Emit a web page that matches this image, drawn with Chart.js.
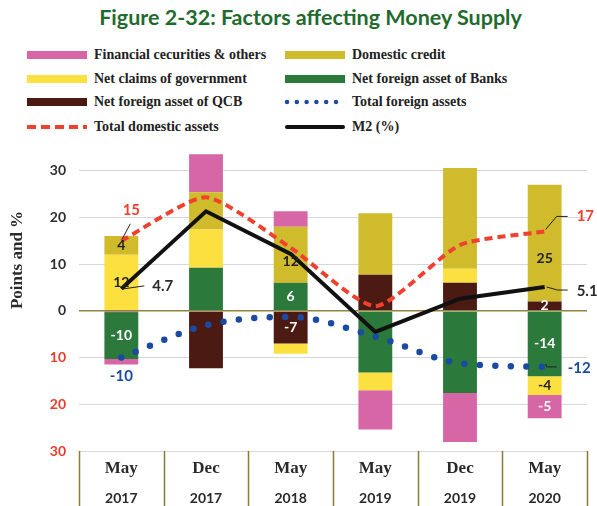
<!DOCTYPE html>
<html lang="en">
<head>
<meta charset="UTF-8">
<title>Factors affecting Money Supply</title>
<script src="https://cdn.jsdelivr.net/npm/chart.js"></script>
<style>
    * { margin: 0; padding: 0; box-sizing: border-box; }
    body { width: 597px; height: 506px; background: #fff; position: relative; overflow: hidden; }
    .title {
        position: absolute; top: 4px; left: 12px; width: 597px;
        text-align: center; font: bold 21.5px Lato, sans-serif; color: #1f6b2e;
    }
    .legend-item {
        position: absolute; height: 22px; display: flex; align-items: center;
        font: bold 14px 'Liberation Serif', serif; color: #222; white-space: nowrap;
    }
    .legend-item svg { margin-right: 6px; }
    .chart-box { position: absolute; left: 0; top: 140px; width: 597px; height: 366px; }
</style>
</head>
<body>
<div class="title">Figure 2-32: Factors affecting Money Supply</div>
<div id="legend"></div>
<div class="chart-box"><canvas id="moneyChart"></canvas></div>

<script>
// categories
const months = ['May', 'Dec', 'May', 'May', 'Dec', 'May'];
const years = ['2017', '2017', '2018', '2019', '2019', '2020'];

// contributions (points)
const netForeignQCB   = [-0.3, -12.3, -7, 7.7, 6, 2];
const netForeignBanks = [-10, 9.2, 6, -13.2, -17.6, -14];
const netClaimsGov    = [12, 8.2, -2.2, -3.8, 3, -4];
const domesticCredit  = [4, 8, 12, 13.2, 21.6, 25];
const finSecurities   = [-1.2, 8.1, 3.3, -8.4, -10.5, -5];

// totals and M2 growth (%)
const totalDomestic = [15, 24.3, 13.5, 1.0, 14.1, 17];
const totalForeign  = [-10, -3.1, -1.3, -5.5, -11.2, -12];
const m2Growth      = [4.7, 21.3, 12.2, -4.5, 2.6, 5.1];

const yTicks = [-30, -20, -10, 0, 10, 20, 30];

const labelFont = 'bold 14px Lato, sans-serif';

// writes values inside selected bar segments
const barLabels = {
    id: 'barLabels',
    afterDatasetsDraw(chart) {
        const ctx = chart.ctx;
        ctx.save();
        ctx.font = labelFont;
        ctx.textAlign = 'center';
        ctx.textBaseline = 'middle';
        chart.data.datasets.forEach((ds, di) => {
            if (!ds.labelAt) return;
            const meta = chart.getDatasetMeta(di);
            ds.labelAt.forEach(i => {
                const bar = meta.data[i];
                const nudge = (ds.labelNudge && ds.labelNudge[i]) || 0;
                ctx.fillStyle = ds.labelColor;
                ctx.fillText(Math.round(ds.data[i]), bar.x, (bar.y + bar.base) / 2 + nudge);
            });
        });
        ctx.restore();
    }
};

// value callouts for the lines with small leader strokes
const lineCallouts = {
    id: 'lineCallouts',
    afterDatasetsDraw(chart) {
        const ctx = chart.ctx;
        ctx.save();
        chart.data.datasets.forEach((ds, di) => {
            if (!ds.callouts) return;
            const meta = chart.getDatasetMeta(di);
            ds.callouts.forEach(c => {
                const p = meta.data[c.i];
                if (c.leader) {
                    ctx.beginPath();
                    ctx.strokeStyle = '#222';
                    ctx.lineWidth = 1;
                    c.leader.forEach(([dx, dy], k) => {
                        if (k === 0) ctx.moveTo(p.x + dx, p.y + dy);
                        else ctx.lineTo(p.x + dx, p.y + dy);
                    });
                    ctx.stroke();
                }
                ctx.font = 'bold 15px Lato, sans-serif';
                ctx.fillStyle = ds.calloutColor;
                ctx.textAlign = c.align;
                ctx.textBaseline = 'middle';
                ctx.fillText(String(ds.data[c.i]), p.x + c.dx, p.y + c.dy);
            });
        });
        ctx.restore();
    }
};

// category table under the plot plus the rotated axis title
const frame = {
    id: 'frame',
    afterDraw(chart) {
        const ctx = chart.ctx;
        const area = chart.chartArea;
        const x = chart.scales.x;
        const half = (x.getPixelForValue(1) - x.getPixelForValue(0)) / 2;
        ctx.save();
        ctx.strokeStyle = '#8a7a32';
        ctx.lineWidth = 1.5;
        for (let i = 0; i <= months.length; i++) {
            const px = Math.round(x.getPixelForValue(i) - half) + 0.5;
            ctx.beginPath();
            ctx.moveTo(px, area.bottom);
            ctx.lineTo(px, chart.height);
            ctx.stroke();
        }
        ctx.fillStyle = '#2a2a2a';
        ctx.textAlign = 'center';
        ctx.textBaseline = 'middle';
        months.forEach((m, i) => {
            const px = x.getPixelForValue(i);
            ctx.font = 'bold 17px "Liberation Serif", serif';
            ctx.fillText(m, px, area.bottom + 18);
            ctx.font = 'bold 14px Lato, sans-serif';
            ctx.fillText(years[i], px, area.bottom + 47);
        });

        ctx.translate(18, 120);
        ctx.rotate(-Math.PI / 2);
        ctx.font = 'bold 17px "Liberation Serif", serif';
        ctx.fillText('Points and %', 0, 0);
        ctx.restore();
    }
};

const chart = new Chart(document.getElementById('moneyChart'), {
    data: {
        labels: months.map((m, i) => m + ' ' + years[i]),
        datasets: [
            {
                type: 'line', label: 'Total foreign assets', data: totalForeign, stack: 'tfa', order: 0,
                borderColor: '#1b4aa3', borderWidth: 6.5, borderDash: [0, 15.5], borderCapStyle: 'round',
                cubicInterpolationMode: 'monotone', pointRadius: 0, fill: false,
                legendDash: '0 9.8', legendWidth: 4.5, legendCap: 'round',
                calloutColor: '#1b4aa3',
                callouts: [
                    { i: 0, dx: 0, dy: 19, align: 'center' },
                    { i: 5, dx: 23, dy: 1, align: 'left', leader: [[1, -3], [2, 0], [12, 0]] }
                ]
            },
            {
                type: 'line', label: 'Total domestic assets', data: totalDomestic, stack: 'tda', order: 0,
                borderColor: '#f0402e', borderWidth: 4, borderDash: [8, 5],
                tension: 0.2, pointRadius: 0, fill: false,
                legendDash: '9 5', legendWidth: 4, legendCap: 'butt',
                calloutColor: '#f0402e',
                callouts: [
                    { i: 0, dx: 10, dy: -31, align: 'center', leader: [[1, -2], [9, -17]] },
                    { i: 5, dx: 32, dy: -15, align: 'left', leader: [[1, -2], [12, -15], [23, -15]] }
                ]
            },
            {
                type: 'line', label: 'M2 (%)', data: m2Growth, stack: 'm2', order: 0,
                borderColor: '#111', borderWidth: 4, tension: 0, pointRadius: 0, fill: false,
                legendWidth: 4, legendCap: 'round',
                calloutColor: '#2a2a2a',
                callouts: [
                    { i: 0, dx: 31, dy: -3, align: 'left', leader: [[2, 0], [23, -3]] },
                    { i: 5, dx: 32, dy: 4, align: 'left', leader: [[2, 0], [13, 3], [23, 3]] }
                ]
            },
            {
                type: 'bar', label: 'Net foreign asset of QCB', data: netForeignQCB, order: 1,
                backgroundColor: '#4a1a13',
                labelAt: [2, 5], labelColor: '#fff'
            },
            {
                type: 'bar', label: 'Net foreign asset of Banks', data: netForeignBanks, order: 1,
                backgroundColor: '#2b7a3b',
                labelAt: [0, 2, 5], labelColor: '#fff'
            },
            {
                type: 'bar', label: 'Net claims of government', data: netClaimsGov, order: 1,
                backgroundColor: '#fbe03f',
                labelAt: [0, 5], labelColor: '#222'
            },
            {
                type: 'bar', label: 'Domestic credit', data: domesticCredit, order: 1,
                backgroundColor: '#cfbb2b',
                labelAt: [0, 2, 5], labelColor: '#222', labelNudge: { 2: 7, 5: 15 }
            },
            {
                type: 'bar', label: 'Financial cecurities & others', data: finSecurities, order: 1,
                backgroundColor: '#d766a7',
                labelAt: [5], labelColor: '#fff'
            }
        ]
    },
    options: {
        responsive: true,
        maintainAspectRatio: false,
        animation: false,
        layout: { padding: { top: 12, right: 10, bottom: 55, left: 0 } },
        datasets: { bar: { barPercentage: 0.4, categoryPercentage: 1, borderWidth: 0 } },
        plugins: { legend: { display: false }, tooltip: { enabled: false } },
        scales: {
            x: { display: false, stacked: true },
            y: {
                stacked: true,
                min: -30,
                max: 34,
                afterBuildTicks: scale => { scale.ticks = yTicks.map(v => ({ value: v })); },
                afterFit: scale => {
                    scale.width = 79;
                    // keep the plot height set by the layout padding alone
                    scale.paddingTop = 0;
                    scale.paddingBottom = 0;
                },
                border: { display: false },
                grid: {
                    drawTicks: false,
                    color: c => c.tick.value === 0 ? '#8f8440' : '#d4d8dc',
                    lineWidth: c => c.tick.value === 0 ? 1.6 : 1
                },
                ticks: {
                    padding: 13,
                    font: { family: 'Lato', weight: 'bold', size: 14 },
                    color: c => c.tick.value < 0 ? '#ec3b2a' : '#2e2e2e',
                    callback: v => Math.abs(v)
                }
            }
        }
    },
    plugins: [barLabels, lineCallouts, frame]
});

// legend in two columns, row by row
const legendOrder = [
    'Financial cecurities & others', 'Domestic credit',
    'Net claims of government', 'Net foreign asset of Banks',
    'Net foreign asset of QCB', 'Total foreign assets',
    'Total domestic assets', 'M2 (%)'
];
const legendBox = document.getElementById('legend');
const rowTops = [44, 68, 91, 116];
legendOrder.forEach((name, k) => {
    const ds = chart.data.datasets.find(d => d.label === name);
    const item = document.createElement('div');
    item.className = 'legend-item';
    item.style.left = (k % 2 === 0 ? 26 : 284) + 'px';
    item.style.top = rowTops[Math.floor(k / 2)] + 'px';
    const isBar = ds.type === 'bar';
    const color = isBar ? ds.backgroundColor : ds.borderColor;
    const width = isBar ? 8 : ds.legendWidth;
    const dash = ds.legendDash ? ` stroke-dasharray="${ds.legendDash}"` : '';
    const cap = isBar ? 'butt' : ds.legendCap;
    const x1 = cap === 'round' ? 3 : 1;
    item.innerHTML =
        `<svg width="62" height="12"><line x1="${x1}" y1="6" x2="${61 - x1 + 1}" y2="6" stroke="${color}" ` +
        `stroke-width="${width}" stroke-linecap="${cap}"${dash}/></svg><span></span>`;
    item.querySelector('span').textContent = name;
    legendBox.appendChild(item);
});
</script>
</body>
</html>
